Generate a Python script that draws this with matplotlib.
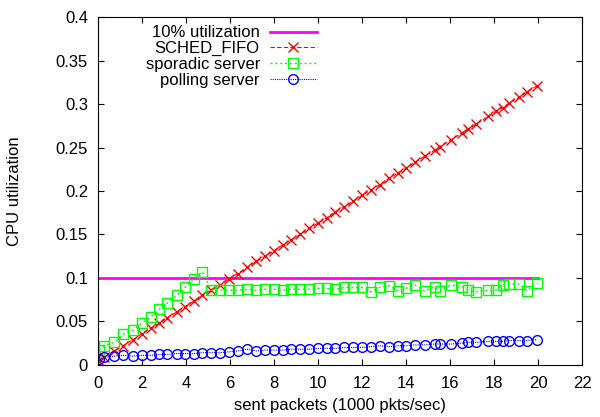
import numpy as np
import matplotlib
matplotlib.use('Agg')
import matplotlib.pyplot as plt
from matplotlib.ticker import FormatStrFormatter

plt.rcParams['font.family'] = ['Liberation Sans', 'DejaVu Sans']

# sent packets (1000 pkts/sec)
packets = [0.05, 0.3, 0.75, 1.15, 1.6, 2.0, 2.4, 2.8, 3.15, 3.6,
           3.95, 4.35, 4.75, 5.15, 5.55, 5.95, 6.35, 6.8, 7.2, 7.6,
           8.0, 8.4, 8.8, 9.2, 9.6, 10.0, 10.4, 10.8, 11.2, 11.6,
           12.0, 12.4, 12.8, 13.25, 13.65, 14.0, 14.4, 14.85, 15.3, 15.55,
           16.05, 16.55, 16.8, 17.2, 17.75, 18.1, 18.4, 18.7, 19.15, 19.5,
           19.95]

sched_fifo = [0.005, 0.009, 0.016, 0.022, 0.029, 0.036, 0.042, 0.048, 0.054, 0.061,
              0.067, 0.073, 0.080, 0.086, 0.092, 0.099, 0.105, 0.112, 0.119, 0.125,
              0.131, 0.138, 0.144, 0.150, 0.157, 0.163, 0.169, 0.176, 0.182, 0.188,
              0.195, 0.201, 0.207, 0.215, 0.221, 0.226, 0.233, 0.240, 0.247, 0.251,
              0.259, 0.267, 0.271, 0.277, 0.286, 0.292, 0.296, 0.301, 0.308, 0.314,
              0.321]

sporadic = [0.017, 0.022, 0.026, 0.035, 0.040, 0.048, 0.055, 0.064, 0.071, 0.080,
            0.089, 0.099, 0.107, 0.086, 0.086, 0.086, 0.086, 0.087, 0.086, 0.087,
            0.087, 0.086, 0.087, 0.087, 0.087, 0.088, 0.088, 0.087, 0.089, 0.089,
            0.089, 0.084, 0.089, 0.091, 0.085, 0.088, 0.092, 0.085, 0.090, 0.085,
            0.092, 0.090, 0.086, 0.084, 0.086, 0.086, 0.092, 0.093, 0.093, 0.085,
            0.094]

polling = [0.007, 0.009, 0.010, 0.011, 0.010, 0.011, 0.011, 0.012, 0.012, 0.013,
           0.013, 0.013, 0.014, 0.014, 0.014, 0.015, 0.016, 0.018, 0.016, 0.017,
           0.017, 0.017, 0.018, 0.018, 0.018, 0.019, 0.019, 0.019, 0.020, 0.020,
           0.020, 0.021, 0.022, 0.021, 0.022, 0.022, 0.023, 0.023, 0.024, 0.024,
           0.024, 0.025, 0.026, 0.026, 0.027, 0.027, 0.027, 0.028, 0.028, 0.028,
           0.029]

limit_x = [0, 20]
limit_y = [0.1, 0.1]

fig = plt.figure(figsize=(6, 4.17), dpi=100)
ax = fig.add_axes([0.163, 0.125, 0.807, 0.834])

ax.plot(limit_x, limit_y, color='#ff00ff', lw=2, label='10% utilization')
ax.plot(packets, sched_fifo, color='#ff0000', lw=0.8, ls=(0, (4, 2)),
        marker='x', ms=7.5, mew=1, label='SCHED_FIFO')
ax.plot(packets, sporadic, color='#00ff00', lw=1.0, ls=(0, (1.5, 2)),
        marker='s', ms=7, mfc='none', mew=1, label='sporadic server')
ax.plot(packets, polling, color='#0000ff', lw=0.8, ls=(0, (1, 1)),
        marker='o', ms=7, mfc='none', mew=1, label='polling server')

ax.set_xlim(0, 22)
ax.set_ylim(0, 0.4)
ax.set_xticks(np.arange(0, 23, 2))
ax.set_yticks(np.arange(0, 0.41, 0.05))
ax.yaxis.set_major_formatter(FormatStrFormatter('%g'))
ax.tick_params(direction='in', top=True, right=True, length=4, labelsize=12)
ax.tick_params(axis='x', pad=8)
ax.tick_params(axis='y', pad=7)

ax.set_xlabel('sent packets (1000 pkts/sec)', fontsize=12, labelpad=5)
ax.set_ylabel('CPU utilization', fontsize=12, labelpad=24)

ax.legend(loc='upper right', bbox_to_anchor=(0.469, 1.0), frameon=False,
          markerfirst=False, fontsize=12, handlelength=2.8, labelspacing=0.04,
          handletextpad=0.6, borderaxespad=0.1)

fig.savefig('out.png', dpi=100)
